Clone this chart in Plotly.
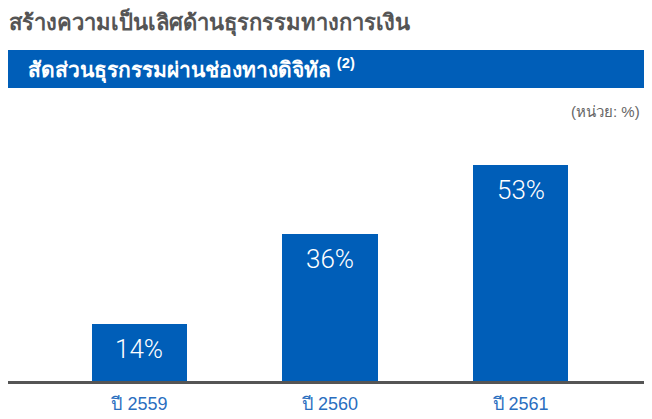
import plotly.graph_objects as go

categories = ["ปี 2559", "ปี 2560", "ปี 2561"]
values = [14, 36, 53]
value_labels = ["14%", "36%", "53%"]

title_text = "สร้างความเป็นเลิศด้านธุรกรรมทางการเงิน"
banner_text = "สัดส่วนธุรกรรมผ่านช่องทางดิจิทัล <sup>(2)</sup>"
unit_text = "(หน่วย: %)"

BLUE = "#005EB8"
# page body adds an 8px offset, so the figure is drawn 8px smaller
OFF = 8
W, H = 652 - OFF, 419 - OFF
ml, mr, mt, mb = 0, 0, 92, 38
ph = H - mt - mb


def py(pix):
    """reference-page pixel y -> paper y"""
    return (H - mb - (pix - OFF)) / ph


fig = go.Figure()
fig.add_trace(go.Bar(
    x=categories, y=values, width=0.5,
    marker=dict(color=BLUE, line=dict(width=0)),
    hoverinfo="skip",
))

for c, v, t in zip(categories, values, value_labels):
    fig.add_annotation(
        x=c, y=v, xref="x", yref="y", text=t, showarrow=False,
        yanchor="top", yshift=-8,
        font=dict(family="Roboto, Liberation Sans, Arial, sans-serif", size=26,
                  weight=300, color="#ffffff"),
    )

fig.add_shape(type="rect", xref="paper", yref="paper",
              x0=0, x1=1, y0=py(88), y1=py(50),
              fillcolor=BLUE, line=dict(width=0), layer="below")

fig.add_annotation(xref="paper", yref="paper", x=0, xshift=-1, y=py(22),
                   text="<b>" + title_text + "</b>",
                   showarrow=False, xanchor="left", yanchor="middle",
                   font=dict(family="Liberation Sans, sans-serif", size=22, color="#555555"))
fig.add_annotation(xref="paper", yref="paper", x=0, xshift=18, y=py(69),
                   text="<b>" + banner_text + "</b>",
                   showarrow=False, xanchor="left", yanchor="middle",
                   font=dict(family="Liberation Sans, sans-serif", size=21, color="#ffffff"))
fig.add_annotation(xref="paper", yref="paper", x=1, xshift=-10, y=py(111),
                   text=unit_text, showarrow=False, xanchor="right", yanchor="middle",
                   font=dict(family="Liberation Sans, sans-serif", size=15, color="#666666"))

fig.update_layout(
    width=W, height=H,
    margin=dict(l=ml, r=mr, t=mt, b=mb, pad=0),
    plot_bgcolor="#ffffff", paper_bgcolor="#ffffff",
    showlegend=False,
    xaxis=dict(range=[-0.69, 2.69], showgrid=False, zeroline=False,
               showline=True, linecolor="#555555", linewidth=2.5,
               ticks="", ticklabelstandoff=5,
               tickfont=dict(family="Liberation Sans, Arial, sans-serif", size=18, color="#2a6ebf"),
               fixedrange=True),
    yaxis=dict(range=[0, ph / 4.08], visible=False, showgrid=False, zeroline=False, fixedrange=True),
    bargap=0,
)

fig.write_html("out.html")
